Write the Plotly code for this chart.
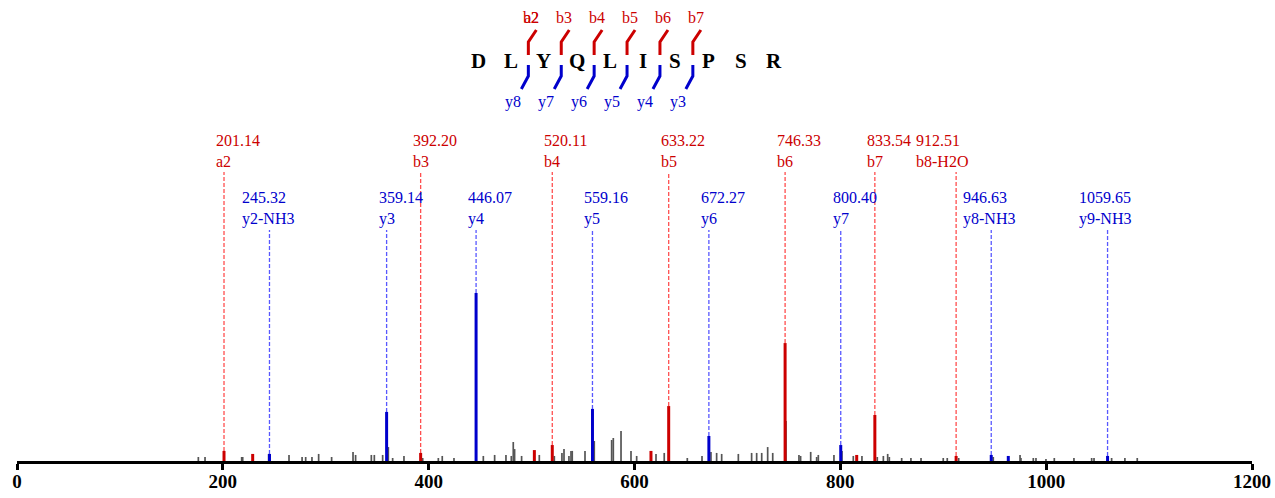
import plotly.graph_objects as go

# ---------------- data ----------------
# annotated fragment peaks
frag_mz = [201.14, 245.32, 359.14, 392.20, 446.07, 520.11, 559.16, 633.22,
           672.27, 746.33, 800.40, 833.54, 912.51, 946.63, 1059.65]
frag_int = [6.0, 4.2, 29.2, 4.8, 100.0, 9.5, 31.0, 32.7,
            14.9, 70.2, 9.5, 27.4, 3.0, 3.6, 3.0]
frag_name = ["a2", "y2-NH3", "y3", "b3", "y4", "b4", "y5", "b5",
             "y6", "b6", "y7", "b7", "b8-H2O", "y8-NH3", "y9-NH3"]
frag_type = ["b", "y", "y", "b", "y", "b", "y", "b",
             "y", "b", "y", "b", "b", "y", "y"]

# extra matched peaks without labels
red_mz = [229.0, 502.7, 616.0, 815.9]
red_int = [4.2, 6.5, 6.0, 3.6]
blue_mz = [963.2]
blue_int = [3.0]

# unmatched peaks
grey_mz = [176.2, 182.7, 218.3, 219.3, 244.5, 264.3, 277.0, 280.5, 286.6, 293.1,
           305.7, 326.5, 329.0, 344.3, 347.2, 355.3, 360.8, 365.0, 376.0, 394.2,
           409.4, 413.2, 424.6, 453.1, 464.1, 475.1, 480.3, 482.2, 483.5, 490.3,
           507.5, 522.1, 529.5, 531.5, 536.3, 538.3, 539.5, 551.9, 560.9, 577.8,
           579.4, 586.9, 596.6, 602.1, 620.9, 628.9, 651.3, 665.6, 674.3, 679.8,
           684.7, 700.9, 713.8, 718.7, 723.6, 729.4, 734.3, 747.2, 759.8, 761.4,
           771.2, 777.0, 778.6, 793.8, 801.6, 812.6, 821.0, 835.9, 841.8, 846.0,
           847.6, 859.6, 868.6, 878.4, 900.0, 903.9, 915.0, 948.6, 974.6, 975.5,
           987.5, 990.1, 999.8, 1007.9, 1027.0, 1044.2, 1046.5, 1063.6, 1076.5, 1088.5]
grey_int = [2.4, 2.4, 2.4, 2.4, 4.2, 3.6, 2.4, 2.4, 2.4, 4.2,
            2.4, 5.4, 3.6, 3.6, 3.6, 3.6, 8.3, 1.8, 3.0, 1.8,
            1.8, 3.0, 1.8, 3.0, 3.6, 3.6, 3.0, 11.3, 7.1, 3.0,
            3.6, 3.0, 4.8, 7.1, 3.0, 6.0, 6.0, 6.0, 11.9, 12.5,
            13.7, 17.9, 6.0, 3.0, 4.2, 4.8, 1.8, 3.0, 5.4, 4.8,
            4.2, 4.2, 4.8, 4.8, 4.8, 8.3, 4.8, 23.8, 3.6, 3.0,
            5.4, 2.4, 3.6, 3.6, 6.0, 3.0, 3.0, 2.4, 3.0, 4.2,
            2.4, 1.8, 1.8, 1.8, 1.8, 1.8, 1.8, 2.4, 3.6, 1.8,
            1.8, 1.8, 1.2, 1.8, 1.8, 1.8, 1.8, 1.8, 1.8, 1.8]

sequence = ["D", "L", "Y", "Q", "L", "I", "S", "P", "S", "R"]
b_ions = ["b2", "b3", "b4", "b5", "b6", "b7"]
y_ions = ["y8", "y7", "y6", "y5", "y4", "y3"]

x_ticks = [0, 200, 400, 600, 800, 1000, 1200]

# ---------------- style / layout ----------------
W, H = 1275, 498
L_M, R_M, T_M, B_M = 17, 23, 0, 37
PW, PH = W - L_M - R_M, H - T_M - B_M
PX_PER_PCT = 1.68
Y_MAX = PH / PX_PER_PCT

RED = "rgb(204,0,0)"
BLUE = "rgb(0,0,204)"
RED_D = "rgba(255,60,60,0.9)"
BLUE_D = "rgba(70,70,255,0.9)"
GREY = "rgb(85,85,85)"
SERIF = "Liberation Serif, Times New Roman, serif"


def py2data(py):
    return (PH - py) / PX_PER_PCT


def pxx(px):
    return (px - L_M) / PW


def pxy(py):
    return (PH - py) / PH


def sticks(xs, ys):
    X, Y = [], []
    for x, y in zip(xs, ys):
        X += [x, x, None]
        Y += [0, y, None]
    return X, Y


fig = go.Figure()

gx, gy = sticks(grey_mz, grey_int)
fig.add_trace(go.Scatter(x=gx, y=gy, mode="lines", line=dict(color=GREY, width=1.7),
                         hoverinfo="skip", showlegend=False))

# dashed connector lines
red_top = py2data(172)
blue_top = py2data(230)
for mz, it, t in zip(frag_mz, frag_int, frag_type):
    top = red_top if t == "b" else blue_top
    fig.add_trace(go.Scatter(x=[mz, mz], y=[it, top], mode="lines",
                             line=dict(color=RED_D if t == "b" else BLUE_D, width=1.3, dash="4px,2px"),
                             hoverinfo="skip", showlegend=False))

rx = [m for m, t in zip(frag_mz, frag_type) if t == "b"] + red_mz
ry = [i for i, t in zip(frag_int, frag_type) if t == "b"] + red_int
bx = [m for m, t in zip(frag_mz, frag_type) if t == "y"] + blue_mz
by = [i for i, t in zip(frag_int, frag_type) if t == "y"] + blue_int
X, Y = sticks(rx, ry)
fig.add_trace(go.Scatter(x=X, y=Y, mode="lines", line=dict(color=RED, width=3),
                         hoverinfo="skip", showlegend=False))
X, Y = sticks(bx, by)
fig.add_trace(go.Scatter(x=X, y=Y, mode="lines", line=dict(color=BLUE, width=3),
                         hoverinfo="skip", showlegend=False))

# peak labels
shift_px = {"y2-NH3": -29, "b8-H2O": -42, "y8-NH3": -30, "y9-NH3": -31}
for mz, name, t in zip(frag_mz, frag_name, frag_type):
    top = red_top if t == "b" else blue_top
    fig.add_annotation(x=mz, y=top, xref="x", yref="y", text=f"{mz:.2f}<br>{name}",
                       showarrow=False, xanchor="left", yanchor="bottom", align="left",
                       xshift=shift_px.get(name, -10), yshift=0,
                       font=dict(family=SERIF, size=16, color=RED if t == "b" else BLUE))

# peptide sequence
seq_x = [478 + i * 32.9 for i in range(len(sequence))]
for x, aa in zip(seq_x, sequence):
    fig.add_annotation(x=pxx(x), y=pxy(61), xref="paper", yref="paper", text=f"<b>{aa}</b>",
                       showarrow=False, xanchor="center", yanchor="middle",
                       font=dict(family=SERIF, size=21, color="black"))

for k in range(6):
    bxp = (seq_x[k + 1] + seq_x[k + 2]) / 2 + 1
    fig.add_shape(type="path", xref="paper", yref="paper",
                  path=f"M {pxx(bxp)} {pxy(55)} L {pxx(bxp)} {pxy(42)} L {pxx(bxp + 8)} {pxy(30)}",
                  line=dict(color=RED, width=3))
    fig.add_shape(type="path", xref="paper", yref="paper",
                  path=f"M {pxx(bxp)} {pxy(65)} L {pxx(bxp)} {pxy(76)} L {pxx(bxp - 7)} {pxy(89)}",
                  line=dict(color=BLUE, width=3))
    labels = ["a2", b_ions[k]] if k == 0 else [b_ions[k]]
    for lab in labels:
        fig.add_annotation(x=pxx(bxp + 3), y=pxy(18), xref="paper", yref="paper", text=lab,
                           showarrow=False, xanchor="center", yanchor="middle",
                           font=dict(family=SERIF, size=16, color=RED))
    fig.add_annotation(x=pxx(bxp - 15), y=pxy(102), xref="paper", yref="paper", text=y_ions[k],
                       showarrow=False, xanchor="center", yanchor="middle",
                       font=dict(family=SERIF, size=16, color=BLUE))

fig.update_layout(
    width=W, height=H,
    margin=dict(l=L_M, r=R_M, t=T_M, b=B_M),
    paper_bgcolor="white", plot_bgcolor="white",
    xaxis=dict(range=[0, 1200], tickvals=x_ticks, ticktext=[str(v) for v in x_ticks],
               showgrid=False, zeroline=False, showline=True, linewidth=3, linecolor="black",
               ticks="outside", ticklen=6, tickwidth=3, tickcolor="black",
               ticklabelstandoff=-5,
               tickfont=dict(family=SERIF, size=19, color="black", weight="bold")),
    yaxis=dict(range=[0, Y_MAX], visible=False, showgrid=False, zeroline=False),
)

fig.write_html("out.html", config={"displayModeBar": False},
               post_script="document.body.style.margin='0';document.body.style.overflow='hidden';")
